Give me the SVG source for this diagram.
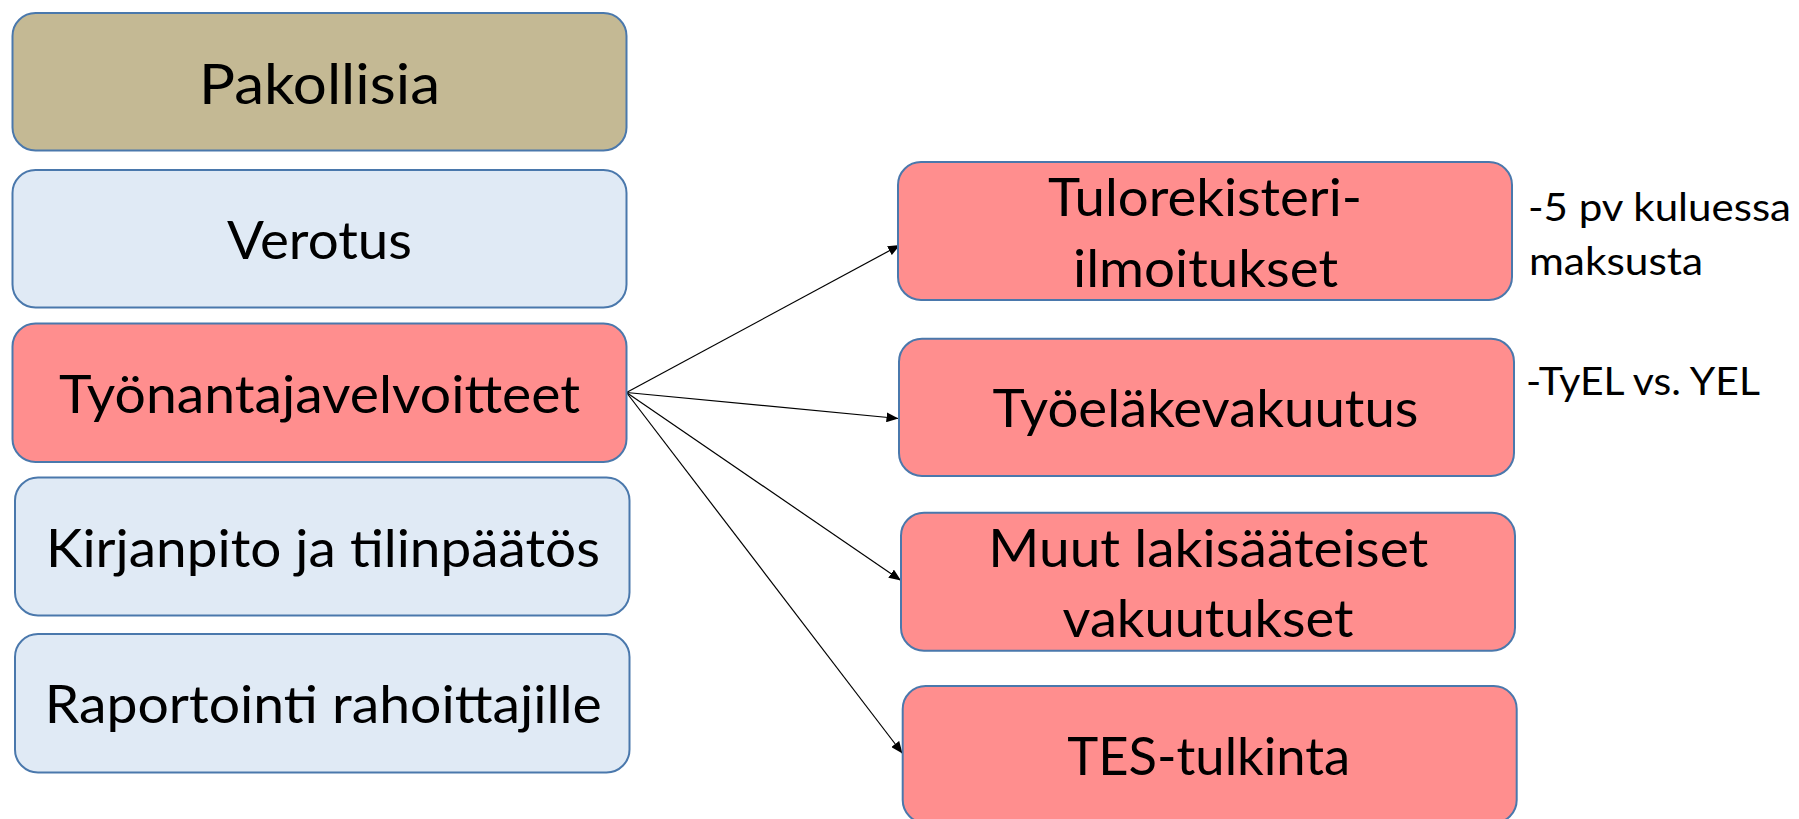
<svg xmlns="http://www.w3.org/2000/svg" width="1799" height="819" viewBox="0 0 1799 819">
  <defs>
    <style>
      .box { stroke: #4A78AC; stroke-width: 2; }
      .tan { fill: #C4B994; }
      .blue { fill: #E0EAF5; }
      .red { fill: #FF8E8E; }
      .lbl { font-family: Lato, "Liberation Sans", sans-serif; font-size: 53px; fill: #000; text-anchor: middle; }
      .note { font-family: Lato, "Liberation Sans", sans-serif; font-size: 39px; fill: #000; }
      .conn { stroke: #000; stroke-width: 1.2; fill: none; marker-end: url(#arrow); }
    </style>
    <marker id="arrow" markerUnits="userSpaceOnUse" markerWidth="12" markerHeight="10" refX="12" refY="5" orient="auto">
      <path d="M0,0 L12,5 L0,10 z" fill="#000"/>
    </marker>
  </defs>
  <rect width="1799" height="819" fill="#fff"/>

  <g id="connectors">
    <line class="conn" x1="626.5" y1="392.5" x2="900" y2="245"/>
    <line class="conn" x1="626.5" y1="392.5" x2="898.5" y2="418.5"/>
    <line class="conn" x1="626.5" y1="392.5" x2="901" y2="580.5"/>
    <line class="conn" x1="626.5" y1="392.5" x2="902.5" y2="753.5"/>
  </g>

  <g id="pakollisia">
    <rect class="box tan" x="12.5" y="13" width="614" height="137.5" rx="23"/>
    <text class="lbl" x="319.5" y="104" style="font-size:56px" textLength="241" lengthAdjust="spacingAndGlyphs">Pakollisia</text>
  </g>
  <g id="verotus">
    <rect class="box blue" x="12.5" y="170" width="614" height="137.5" rx="23"/>
    <text class="lbl" x="319.5" y="258.5" textLength="185" lengthAdjust="spacingAndGlyphs">Verotus</text>
  </g>
  <g id="tyonantajavelvoitteet">
    <rect class="box red" x="12.5" y="323.5" width="614" height="138.5" rx="23"/>
    <text class="lbl" x="319.5" y="412.7" textLength="521" lengthAdjust="spacingAndGlyphs">Työnantajavelvoitteet</text>
  </g>
  <g id="kirjanpito">
    <rect class="box blue" x="15" y="477.5" width="614.5" height="138" rx="23"/>
    <text class="lbl" x="323" y="566.7" textLength="554" lengthAdjust="spacingAndGlyphs">Kirjanpito ja tilinpäätös</text>
  </g>
  <g id="raportointi">
    <rect class="box blue" x="15" y="634" width="614.5" height="138.5" rx="23"/>
    <text class="lbl" x="323.3" y="723.3" textLength="557" lengthAdjust="spacingAndGlyphs">Raportointi rahoittajille</text>
  </g>

  <g id="tulorekisteri">
    <rect class="box red" x="898" y="162" width="614" height="138" rx="23"/>
    <text class="lbl" x="1205" y="216" textLength="314" lengthAdjust="spacingAndGlyphs">Tulorekisteri-</text>
    <text class="lbl" x="1205.5" y="286.7" textLength="265" lengthAdjust="spacingAndGlyphs">ilmoitukset</text>
  </g>
  <g id="tyoelakevakuutus">
    <rect class="box red" x="899" y="338.7" width="615" height="137.3" rx="23"/>
    <text class="lbl" x="1205.5" y="427.3" textLength="426" lengthAdjust="spacingAndGlyphs">Työeläkevakuutus</text>
  </g>
  <g id="muut">
    <rect class="box red" x="901" y="512.7" width="614" height="138" rx="23"/>
    <text class="lbl" x="1208.3" y="566.7" textLength="440" lengthAdjust="spacingAndGlyphs">Muut lakisääteiset</text>
    <text class="lbl" x="1208" y="636.7" textLength="291" lengthAdjust="spacingAndGlyphs">vakuutukset</text>
  </g>
  <g id="tes">
    <rect class="box red" x="902.7" y="686" width="614" height="137" rx="23"/>
    <text class="lbl" x="1208.7" y="775" textLength="283" lengthAdjust="spacingAndGlyphs">TES-tulkinta</text>
  </g>

  <g id="notes">
    <text class="note" x="1528" y="221" textLength="263" lengthAdjust="spacingAndGlyphs">-5 pv kuluessa</text>
    <text class="note" x="1529" y="275" textLength="174" lengthAdjust="spacingAndGlyphs">maksusta</text>
    <text class="note" x="1526" y="395" textLength="234" lengthAdjust="spacingAndGlyphs">-TyEL vs. YEL</text>
  </g>
</svg>
